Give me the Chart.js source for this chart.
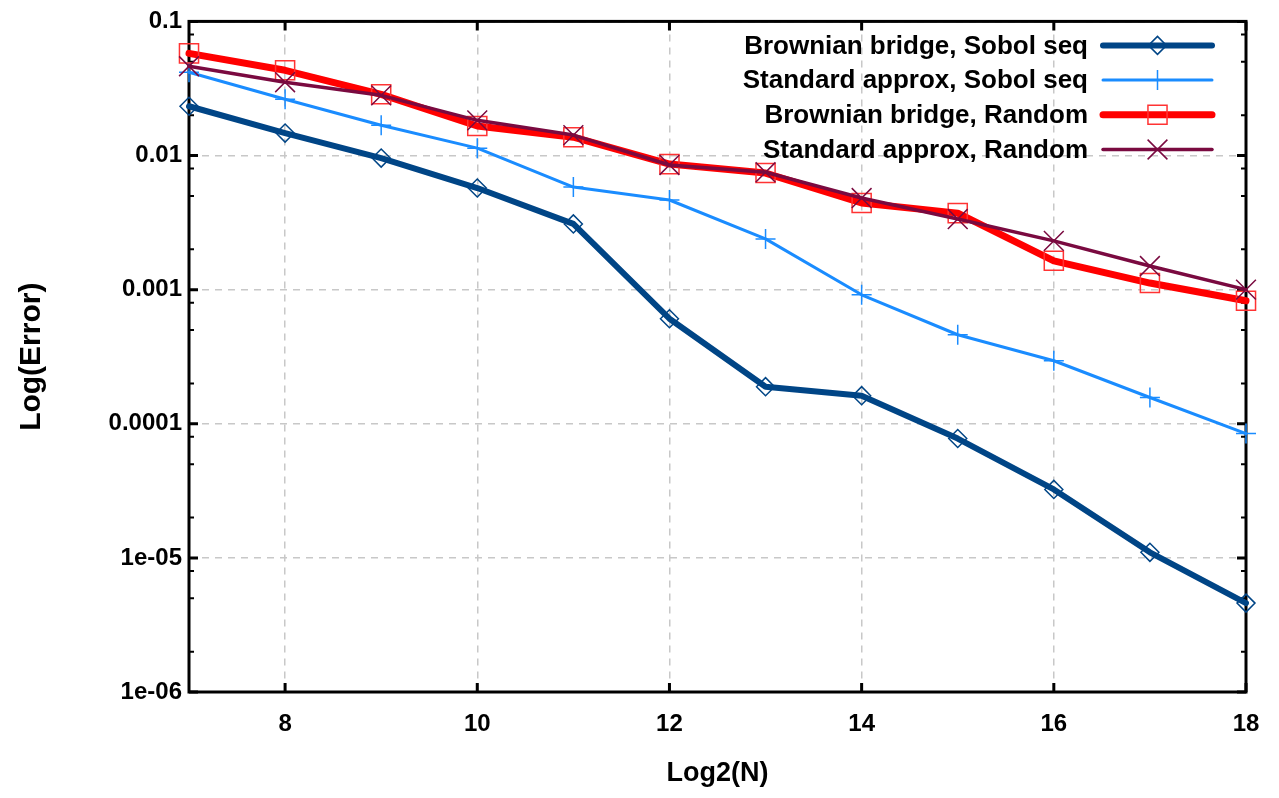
<!DOCTYPE html>
<html>
<head>
<meta charset="utf-8">
<title>Log(Error) vs Log2(N)</title>
<script src="https://cdn.jsdelivr.net/npm/chart.js@4.4.1/dist/chart.umd.min.js"></script>
<style>
    html, body { margin: 0; padding: 0; background: #ffffff; }
    #wrap { width: 1279px; height: 798px; }
</style>
</head>
<body>
<div id="wrap"><canvas id="myChart" width="1279" height="798"></canvas></div>
<script>
// data
var log2N = [7, 8, 9, 10, 11, 12, 13, 14, 15, 16, 17, 18];
var bbSobol = [0.0233, 0.0147, 0.00957, 0.00572, 0.00309, 0.000607, 0.000189, 0.000162, 0.0000776, 0.0000324, 0.0000110, 0.0000046];
var stdSobol = [0.0418, 0.0263, 0.0168, 0.01135, 0.00582, 0.00466, 0.00239, 0.000915, 0.000461, 0.000295, 0.000157, 0.0000845];
var bbRandom = [0.0578, 0.0432, 0.0286, 0.0166, 0.0137, 0.00863, 0.0074, 0.00443, 0.00372, 0.00164, 0.00112, 0.000826];
var stdRandom = [0.0463, 0.0352, 0.0281, 0.0183, 0.0142, 0.0085, 0.0075, 0.00482, 0.00336, 0.00231, 0.00150, 0.00100];

var seriesNames = ['Brownian bridge, Sobol seq', 'Standard approx, Sobol seq', 'Brownian bridge, Random', 'Standard approx, Random'];

var xTicks = [8, 10, 12, 14, 16, 18];
var yTicks = [1e-6, 1e-5, 1e-4, 1e-3, 1e-2, 1e-1];
var yTickLabels = ['1e-06', '1e-05', '0.0001', '0.001', '0.01', '0.1'];
var yMinorSteps = [2, 5, 8];

function toPoints(ys) {
    return log2N.map(function (x, i) { return { x: x, y: ys[i] }; });
}

// box round the plot with inward ticks, like the original
var framePlugin = {
    id: 'frame',
    beforeDatasetsDraw: function (chart) {
        var ctx = chart.ctx;
        var ca = chart.chartArea;
        var xs = chart.scales.x, ys = chart.scales.y;
        ctx.save();
        ctx.strokeStyle = '#000';
        ctx.lineWidth = 3;
        ctx.strokeRect(ca.left, ca.top, ca.right - ca.left, ca.bottom - ca.top);
        ctx.beginPath();
        xTicks.forEach(function (v) {
            var px = xs.getPixelForValue(v);
            ctx.moveTo(px, ca.bottom); ctx.lineTo(px, ca.bottom - 9);
            ctx.moveTo(px, ca.top); ctx.lineTo(px, ca.top + 9);
        });
        yTicks.forEach(function (v) {
            var py = ys.getPixelForValue(v);
            ctx.moveTo(ca.left, py); ctx.lineTo(ca.left + 9, py);
            ctx.moveTo(ca.right, py); ctx.lineTo(ca.right - 9, py);
        });
        ctx.stroke();
        ctx.lineWidth = 2;
        ctx.beginPath();
        yTicks.forEach(function (v) {
            yMinorSteps.forEach(function (m) {
                var val = v * m;
                if (val >= 0.1) return;
                var py = ys.getPixelForValue(val);
                ctx.moveTo(ca.left, py); ctx.lineTo(ca.left + 5, py);
                ctx.moveTo(ca.right, py); ctx.lineTo(ca.right - 5, py);
            });
        });
        ctx.stroke();
        ctx.restore();
    }
};

function drawMarker(ctx, style, x, y, r) {
    ctx.beginPath();
    if (style === 'rectRot') {
        ctx.moveTo(x - r, y); ctx.lineTo(x, y - r); ctx.lineTo(x + r, y); ctx.lineTo(x, y + r); ctx.closePath();
    } else if (style === 'rect') {
        var s = r * Math.SQRT1_2;
        ctx.rect(x - s, y - s, 2 * s, 2 * s);
    } else if (style === 'cross') {
        ctx.moveTo(x - r, y); ctx.lineTo(x + r, y); ctx.moveTo(x, y - r); ctx.lineTo(x, y + r);
    } else if (style === 'crossRot') {
        var d = r * Math.SQRT1_2;
        ctx.moveTo(x - d, y - d); ctx.lineTo(x + d, y + d); ctx.moveTo(x - d, y + d); ctx.lineTo(x + d, y - d);
    }
    ctx.stroke();
}

// legend: text right aligned, line sample with its marker on the right
var legendPlugin = {
    id: 'rightLegend',
    afterDraw: function (chart) {
        var ctx = chart.ctx;
        var ca = chart.chartArea;
        var textRight = ca.right - 158;
        var x0 = ca.right - 143, x1 = ca.right - 34;
        ctx.save();
        ctx.font = 'bold 26px "Liberation Sans", Arial, sans-serif';
        ctx.textAlign = 'right';
        ctx.textBaseline = 'middle';
        chart.data.datasets.forEach(function (ds, i) {
            var y = ca.top + 24 + i * 34.7;
            ctx.fillStyle = '#000';
            ctx.fillText(ds.label, textRight, y + 1);
            ctx.strokeStyle = ds.borderColor;
            ctx.lineWidth = ds.borderWidth;
            ctx.lineCap = 'round';
            ctx.beginPath();
            ctx.moveTo(x0, y); ctx.lineTo(x1, y);
            ctx.stroke();
            ctx.lineCap = 'butt';
            ctx.strokeStyle = ds.pointBorderColor;
            ctx.lineWidth = ds.pointBorderWidth;
            drawMarker(ctx, ds.pointStyle, (x0 + x1) / 2, y, ds.pointRadius);
        });
        ctx.restore();
    }
};

var ctx = document.getElementById('myChart');

new Chart(ctx, {
    type: 'line',
    data: {
        datasets: [{
            label: seriesNames[0],
            data: toPoints(bbSobol),
            borderColor: '#004586',
            borderWidth: 6,
            pointStyle: 'rectRot',
            pointRadius: 9,
            pointBorderColor: '#004586',
            pointBorderWidth: 1.5,
            pointBackgroundColor: 'rgba(0,0,0,0)',
            order: 3
        }, {
            label: seriesNames[1],
            data: toPoints(stdSobol),
            borderColor: '#1a8cff',
            borderWidth: 3,
            pointStyle: 'cross',
            pointRadius: 10,
            pointBorderColor: '#1a8cff',
            pointBorderWidth: 1.5,
            pointBackgroundColor: 'rgba(0,0,0,0)',
            order: 2
        }, {
            label: seriesNames[2],
            data: toPoints(bbRandom),
            borderColor: '#ff0000',
            borderWidth: 7,
            pointStyle: 'rect',
            pointRadius: 13.5,
            pointBorderColor: '#ff3333',
            pointBorderWidth: 1.5,
            pointBackgroundColor: 'rgba(0,0,0,0)',
            order: 1
        }, {
            label: seriesNames[3],
            data: toPoints(stdRandom),
            borderColor: '#7a0a40',
            borderWidth: 3.5,
            pointStyle: 'crossRot',
            pointRadius: 14,
            pointBorderColor: '#7a0a40',
            pointBorderWidth: 1.5,
            pointBackgroundColor: 'rgba(0,0,0,0)',
            order: 0
        }]
    },
    options: {
        responsive: false,
        animation: false,
        devicePixelRatio: 1,
        clip: false,
        layout: { padding: { top: 20, right: 33, left: 0, bottom: 0 } },
        plugins: {
            legend: { display: false },
            tooltip: { enabled: false }
        },
        elements: { line: { tension: 0, borderJoinStyle: 'round', borderCapStyle: 'round' } },
        scales: {
            x: {
                type: 'linear',
                min: 7,
                max: 18,
                afterBuildTicks: function (scale) {
                    scale.ticks = xTicks.map(function (v) { return { value: v }; });
                },
                afterFit: function (scale) { scale.height = 106; },
                grid: { color: '#c8c8c8', lineWidth: 1.5, drawTicks: false },
                border: { display: false, dash: [7, 6] },
                ticks: {
                    color: '#000',
                    padding: 18,
                    font: { family: '"Liberation Sans", Arial, sans-serif', size: 24, weight: 'bold' }
                },
                title: {
                    display: true,
                    text: 'Log2(N)',
                    color: '#000',
                    padding: { top: 0, bottom: 8 },
                    font: { family: '"Liberation Sans", Arial, sans-serif', size: 27, weight: 'bold' }
                }
            },
            y: {
                type: 'logarithmic',
                min: 1e-6,
                max: 0.1,
                afterBuildTicks: function (scale) {
                    scale.ticks = yTicks.map(function (v) { return { value: v }; });
                },
                afterFit: function (scale) { scale.width = 189; },
                grid: { color: '#c8c8c8', lineWidth: 1.5, drawTicks: false },
                border: { display: false, dash: [7, 6] },
                ticks: {
                    color: '#000',
                    padding: 7,
                    font: { family: '"Liberation Sans", Arial, sans-serif', size: 24, weight: 'bold' },
                    callback: function (value, index) { return yTickLabels[index]; }
                },
                title: {
                    display: true,
                    text: 'Log(Error)',
                    color: '#000',
                    padding: { top: 14, bottom: 0 },
                    font: { family: '"Liberation Sans", Arial, sans-serif', size: 30, weight: 'bold' }
                }
            }
        }
    },
    plugins: [framePlugin, legendPlugin]
});
</script>
</body>
</html>
